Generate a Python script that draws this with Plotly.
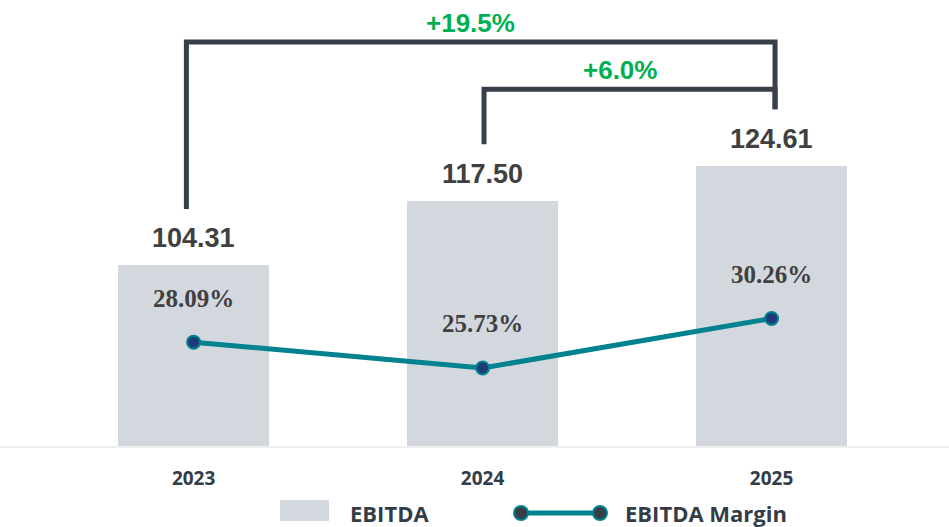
import plotly.graph_objects as go

# ---- data ----
years = ["2023", "2024", "2025"]
ebitda = [104.31, 117.50, 124.61]
margin = [28.09, 25.73, 30.26]
growth_labels = ["+19.5%", "+6.0%"]   # 2023->2025, 2024->2025

xpos = list(range(len(years)))

BAR_COLOR = "#D3D8DF"
LINE_COLOR = "#00838F"
MARKER_FILL = "#1F3C7A"
BRACKET_COLOR = "#37404A"
GREEN = "#00B050"
TEXT_DARK = "#404040"
AXIS_TEXT = "#333D47"

W, H = 949, 527
M_T, M_B = 10, 81

fig = go.Figure()

fig.add_trace(go.Bar(
    x=xpos, y=ebitda, width=0.52, marker=dict(color=BAR_COLOR, line=dict(width=0)),
    name="EBITDA", showlegend=False, hoverinfo="skip"))

fig.add_trace(go.Scatter(
    x=xpos, y=margin, yaxis="y2", mode="lines+markers", name="EBITDA Margin",
    line=dict(color=LINE_COLOR, width=5),
    marker=dict(size=13, color=MARKER_FILL, line=dict(color=LINE_COLOR, width=2)),
    showlegend=False, hoverinfo="skip"))

annotations = []
# EBITDA value labels
for x, v in zip(xpos, ebitda):
    annotations.append(dict(x=x, y=v, xref="x", yref="y", text=f"<b>{v:.2f}</b>",
                            showarrow=False, yanchor="middle", yshift=27,
                            font=dict(family="Liberation Sans, Arial", size=27, color=TEXT_DARK)))
# margin labels
for x, m in zip(xpos, margin):
    annotations.append(dict(x=x, y=m, xref="x", yref="y2", text=f"<b>{m:.2f}%</b>",
                            showarrow=False, yanchor="middle", yshift=44,
                            font=dict(family="Liberation Serif, Times New Roman", size=25, color=TEXT_DARK)))

# growth brackets
leg_gap = 11.5
small_level = max(ebitda[1:]) + 15.6
big_level = small_level + 9.6
shapes = []

def bracket(i0, i1, level, label, dx0=0.0, dx1=0.0):
    xa, xb = xpos[i0] + dx0, xpos[i1] + dx1
    path = (f"M {xa},{ebitda[i0] + leg_gap} L {xa},{level} "
            f"L {xb},{level} L {xb},{ebitda[i1] + leg_gap}")
    shapes.append(dict(type="path", path=path, xref="x", yref="y",
                       line=dict(color=BRACKET_COLOR, width=5)))
    annotations.append(dict(x=(xa + xb) / 2, y=level, xref="x", yref="y",
                            text=f"<b>{label}</b>", showarrow=False, yanchor="middle",
                            yshift=19, xshift=-10,
                            font=dict(family="Liberation Sans, Arial", size=26, color=GREEN)))

bracket(0, 2, big_level, growth_labels[0], dx0=-0.025, dx1=0.012)
bracket(1, 2, small_level, growth_labels[1], dx0=0.005, dx1=0.012)

# custom legend (paper coordinates)
plot_h = H - M_T - M_B
def py(pix):
    return (H - M_B - pix) / plot_h
def px(pix):
    return pix / W

shapes.append(dict(type="rect", xref="paper", yref="paper",
                   x0=px(280), x1=px(329), y0=py(521), y1=py(500),
                   fillcolor=BAR_COLOR, line=dict(width=0)))
annotations.append(dict(x=px(348), y=py(513), xref="paper", yref="paper", xanchor="left",
                        yanchor="middle", showarrow=False, text="<b>EBITDA</b>",
                        font=dict(family="Open Sans", size=22, color=AXIS_TEXT)))
shapes.append(dict(type="line", xref="paper", yref="paper",
                   x0=px(521), x1=px(600), y0=py(513), y1=py(513),
                   line=dict(color=LINE_COLOR, width=5)))
for cx in (521, 600):
    shapes.append(dict(type="circle", xref="paper", yref="paper",
                       xsizemode="pixel", ysizemode="pixel",
                       xanchor=px(cx), yanchor=py(513), x0=-7, x1=7, y0=-7, y1=7,
                       fillcolor="#363E48", line=dict(color=LINE_COLOR, width=2)))
annotations.append(dict(x=px(623), y=py(513), xref="paper", yref="paper", xanchor="left",
                        yanchor="middle", showarrow=False, text="<b>EBITDA Margin</b>",
                        font=dict(family="Open Sans", size=22, color=AXIS_TEXT)))

fig.update_layout(
    width=W, height=H,
    margin=dict(l=0, r=0, t=M_T, b=M_B),
    paper_bgcolor="white", plot_bgcolor="white",
    showlegend=False,
    xaxis=dict(range=[-0.67, 2.614], tickvals=xpos, ticktext=[f"<b>{y}</b>" for y in years],
               tickfont=dict(family="Open Sans", size=19, color=AXIS_TEXT),
               showgrid=False, zeroline=False, showline=True, linecolor="#EEEEEE", linewidth=2,
               ticks="", ticklabelstandoff=14, fixedrange=True),
    yaxis=dict(range=[67.56, 156.32], visible=False, showgrid=False, fixedrange=True),
    yaxis2=dict(range=[18.59, 58.48], overlaying="y", visible=False, showgrid=False, fixedrange=True),
    shapes=shapes, annotations=annotations,
    bargap=0,
)

fig.write_html("out.html", config={"displayModeBar": False},
               post_script="document.body.style.margin='0px';document.body.style.overflow='hidden';")
